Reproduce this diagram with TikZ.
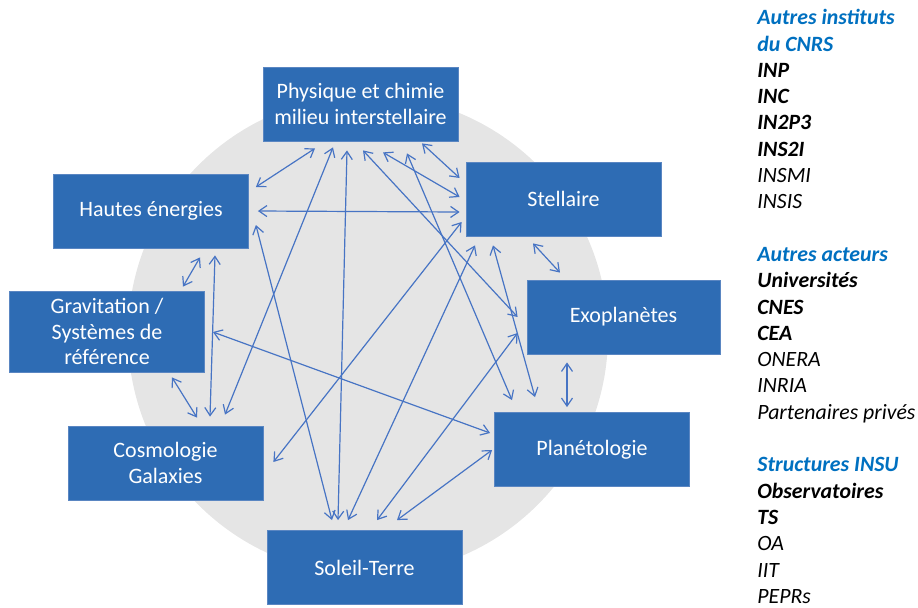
\documentclass[tikz,border=0pt]{standalone}
\usepackage{fontspec}
\setmainfont{Carlito}
\usepackage{xcolor}
\usetikzlibrary{arrows.meta}

\definecolor{boxblue}{HTML}{2E6CB4}
\definecolor{boxline}{HTML}{5A86C2}
\definecolor{linkblue}{HTML}{4774C4}
\definecolor{headblue}{HTML}{0070C0}
\definecolor{discgrey}{HTML}{E5E5E5}

\begin{document}
\begin{tikzpicture}[x=0.5pt,y=-0.5pt,
  box/.style={draw=boxline, line width=0.4pt, fill=boxblue, text=white,
    align=center, minimum width=97.5pt, minimum height=37pt, inner sep=0pt,
    font=\fontsize{11}{12.8}\selectfont},
  link/.style={draw=linkblue, line width=0.6pt,
    {Straight Barb[length=4pt,width=5.5pt]}-{Straight Barb[length=4pt,width=5.5pt]}}]
\useasboundingbox (0,0) rectangle (918,607);
% grey disc behind the themes
\fill[discgrey] (368,335) circle[radius=240];

% themes
\node[box] (phys) at (360.5,104) {Physique et chimie\\milieu interstellaire};
\node[box] (he) at (151,211) {Hautes énergies};
\node[box, minimum height=40.5pt] (grav) at (107,331.5) {Gravitation /\\Systèmes de\\référence};
\node[box] (cosmo) at (165.5,463) {Cosmologie\\Galaxies};
\node[box] (st) at (364.5,567.5) {Soleil-Terre};
\node[box] (stel) at (563.5,199) {Stellaire};
\node[box, minimum width=96.5pt] (exo) at (623.5,317) {Exoplanètes};
\node[box] (plan) at (592,449.5) {Planétologie};

% links
\draw[link] ([shift={(-45.5,7)}]phys.south) -- ([shift={(7,-24)}]he.east);
\draw[link] ([shift={(-27.5,6)}]phys.south) -- ([shift={(59.5,-11)}]cosmo.north);
\draw[link] ([shift={(-13.5,9)}]phys.south) -- ([shift={(-26.5,-10)}]st.north);
\draw[link] ([shift={(2.5,9)}]phys.south) -- ([shift={(-9,0)}]exo.west);
\draw[link] ([shift={(22.5,11)}]phys.south) -- ([shift={(-6,-2)}]stel.west);
\draw[link] ([shift={(46.5,12)}]phys.south) -- ([shift={(-80,-12)}]plan.north);
\draw[link] ([shift={(61.5,2)}]phys.south) -- ([shift={(-6,-21)}]stel.west);
\draw[link] ([shift={(9,0)}]he.east) -- ([shift={(-6,13)}]stel.west);
\draw[link] ([shift={(7,14)}]he.east) -- ([shift={(-32.5,-10)}]st.north);
\draw[link] ([shift={(49,9)}]he.south) -- ([shift={(76,-4)}]grav.north);
\draw[link] ([shift={(64,7)}]he.south) -- ([shift={(44.5,-9)}]cosmo.north);
\draw[link] ([shift={(8,0.5)}]grav.east) -- ([shift={(-4,-16.5)}]plan.west);
\draw[link] ([shift={(65,5)}]grav.south) -- ([shift={(31.5,-8)}]cosmo.north);
\draw[link] ([shift={(10,-1)}]cosmo.east) -- ([shift={(-4,23)}]stel.west);
\draw[link] ([shift={(-16.5,-10)}]st.north) -- ([shift={(-88.5,9)}]stel.south);
\draw[link] ([shift={(12.5,-10)}]st.north) -- ([shift={(-9,16)}]exo.west);
\draw[link] ([shift={(32.5,-10)}]st.north) -- ([shift={(-2,0.5)}]plan.west);
\draw[link] ([shift={(-70.5,9)}]stel.south) -- ([shift={(-57,-15)}]plan.north);
\draw[link] ([shift={(-30.5,7)}]stel.south) -- ([shift={(-63.5,-7)}]exo.north);
\draw[link] ([shift={(-56.5,8)}]exo.south) -- ([shift={(-25,-5)}]plan.north);

% partners
\node[anchor=north west, align=left, inner sep=0pt,
  font=\fontsize{10.9}{13.15}\selectfont\itshape] (partners) at (757,9) {%
  {\color{headblue}\bfseries Autres instituts}\\
  {\color{headblue}\bfseries du CNRS}\\
  {\bfseries INP}\\
  {\bfseries INC}\\
  {\bfseries IN2P3}\\
  {\bfseries INS2I}\\
  INSMI\\
  INSIS\\[13.15pt]
  {\color{headblue}\bfseries Autres acteurs}\\
  {\bfseries Universités}\\
  {\bfseries CNES}\\
  {\bfseries CEA}\\
  ONERA\\
  INRIA\\
  Partenaires privés\\[13.15pt]
  {\color{headblue}\bfseries Structures INSU}\\
  {\bfseries Observatoires}\\
  {\bfseries TS}\\
  OA\\
  IIT\\
  PEPRs};
\end{tikzpicture}
\end{document}
